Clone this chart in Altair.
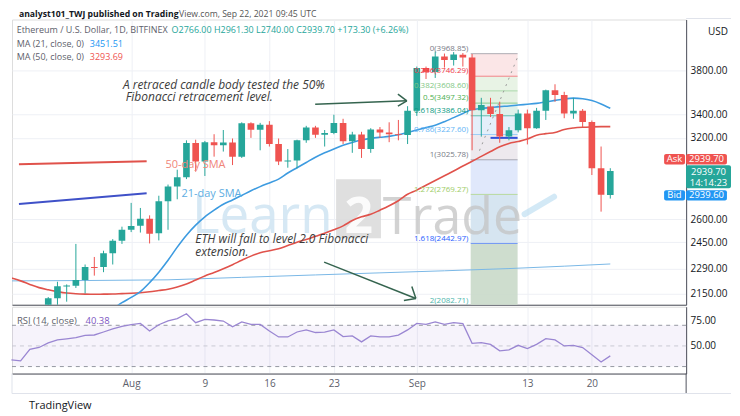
import altair as alt
import pandas as pd

T0 = pd.Timestamp("2021-07-19")

# ---------------- candles (ETH/USD, 1D, Bitfinex) ----------------
candle_dates = pd.date_range("2021-07-23", "2021-09-22", freq="D")
opens = [2025, 2123, 2188, 2192, 2225, 2300, 2300, 2383, 2460, 2530, 2556, 2603, 2507, 2722, 2825, 2893,
         3158, 3013, 3165, 3140, 3163, 3050, 3322, 3268, 3310, 3150, 3013, 3020, 3180, 3285, 3225, 3240,
         3325, 3172, 3228, 3110, 3270, 3245, 3230, 3224, 3430, 3825, 3787, 3940, 3905, 3958, 3930, 3435,
         3468, 3402, 3212, 3262, 3405, 3280, 3430, 3615, 3570, 3405, 3430, 3332, 2960, 2766]
highs = [2130, 2215, 2200, 2440, 2315, 2360, 2398, 2470, 2550, 2710, 2675, 2625, 2760, 2840, 2950, 3180,
         3185, 3175, 3230, 3265, 3195, 3330, 3330, 3325, 3340, 3195, 3110, 3185, 3300, 3300, 3265, 3395,
         3360, 3250, 3250, 3280, 3290, 3330, 3350, 3470, 3840, 3840, 3990, 3970, 3985, 3975, 3965, 3545,
         3545, 3510, 3290, 3440, 3440, 3455, 3620, 3670, 3600, 3545, 3445, 3345, 3130, 2961.3]
lows = [2000, 2082, 2105, 2180, 2150, 2250, 2270, 2315, 2440, 2515, 2512, 2443, 2462, 2530, 2735, 2880,
        2935, 2903, 3050, 3090, 2985, 3040, 3200, 3100, 3130, 2985, 2965, 2960, 3160, 3200, 3130, 3230,
        3150, 3080, 3040, 3080, 3200, 3165, 3180, 3150, 3385, 3720, 3730, 3830, 3850, 3840, 3100, 3210,
        3375, 3160, 3180, 3245, 3147, 3275, 3350, 3510, 3365, 3360, 3290, 2910, 2650, 2740]
closes = [2123, 2190, 2194, 2225, 2300, 2294, 2383, 2460, 2530, 2555, 2603, 2505, 2722, 2825, 2893, 3158,
          3013, 3165, 3140, 3163, 3050, 3322, 3268, 3310, 3150, 3013, 3020, 3180, 3285, 3225, 3240, 3325,
          3172, 3228, 3110, 3270, 3245, 3230, 3224, 3430, 3825, 3787, 3940, 3905, 3960, 3930, 3435, 3480,
          3402, 3212, 3262, 3405, 3280, 3430, 3615, 3570, 3405, 3430, 3332, 2960, 2766.4, 2939.7]

# ---------------- moving averages ----------------
ma21_days = list(range(11, 66))
ma21_vals = [2065, 2100, 2128, 2160, 2210, 2270, 2340, 2420, 2495, 2560, 2615, 2660, 2700, 2730, 2762,
             2795, 2825, 2852, 2880, 2925, 2965, 3005, 3045, 3080, 3110, 3140, 3163, 3182, 3196, 3205,
             3212, 3225, 3245, 3265, 3285, 3305, 3335, 3370, 3405, 3440, 3450, 3458, 3466, 3472, 3480,
             3487, 3495, 3508, 3522, 3535, 3542, 3537, 3520, 3490, 3451.51]
ma50_days = list(range(0, 66))
ma50_vals = [2236, 2220, 2200, 2182, 2170, 2160, 2152, 2148, 2146, 2145, 2146, 2147, 2149, 2151, 2154,
             2159, 2166, 2173, 2185, 2202, 2225, 2248, 2268, 2290, 2314, 2340, 2365, 2385, 2398, 2410,
             2430, 2450, 2468, 2488, 2508, 2530, 2555, 2590, 2615, 2632, 2660, 2690, 2725, 2770, 2800,
             2835, 2870, 2905, 2940, 2978, 3014, 3052, 3090, 3128, 3155, 3170, 3190, 3222, 3235, 3245,
             3270, 3282, 3288, 3291, 3293, 3293.69]
ma200_days = [0, 8, 17, 25, 33, 40, 47, 54, 60, 65]
ma200_vals = [2220, 2222, 2226, 2240, 2254, 2266, 2278, 2291, 2305, 2318]

# ---------------- RSI (14) ----------------
rsi_vals = [36.5, 35.5, 46.7, 48.5, 53, 55.8, 56.8, 58, 60.3, 60.6, 63.5, 66.5, 69, 70.7, 71.8, 64.5,
            70.5, 74.3, 76.4, 81.2, 72.5, 75.7, 75.1, 74.1, 68.6, 73.2, 70.9, 70.9, 64.5, 58.7, 58.7,
            63.5, 65.5, 63, 63.3, 65.5, 59, 59.7, 53.9, 59.7, 58.8, 58.7, 60.5, 65.5, 71.8, 70.9, 73.3,
            70.9, 72.5, 71.6, 52.5, 53.2, 51.5, 45.2, 46.1, 50.6, 47.4, 51.5, 57, 55.8, 50, 50.6, 48.4,
            41.5, 34.5, 40.38]

# ---------------- Fibonacci tool ----------------
fib_ratios = [0, 0.236, 0.382, 0.5, 0.618, 0.786, 1, 1.272, 1.618, 2]
fib_prices = [3968.85, 3746.29, 3608.60, 3497.32, 3386.04, 3227.60, 3025.78, 2769.27, 2442.97, 2082.71]
fib_label_colors = ["#787b86", "#f23645", "#81c784", "#4caf50", "#089981", "#64b5f6", "#787b86",
                    "#9ccc65", "#2962ff", "#4db6ac"]
fib_zone_colors = ["#fbe3e4", "#e6f2e2", "#e2f0e0", "#dcefe9", "#e1edf9", "#ebe7ec", "#dde5fb",
                   "#d2e2f0", "#c9d9c9"]

# ---------------- axes ----------------
price_ticks = [2150, 2290, 2450, 2600, 3200, 3400, 3800]
tick_dates = ["2021-08-01", "2021-08-09", "2021-08-16", "2021-08-23", "2021-09-01", "2021-09-13", "2021-09-20"]
tick_labels = ["Aug", "9", "16", "23", "Sep", "13", "20"]
rsi_ticks = [50, 75]

FONT = "Open Sans"
UP, DOWN = "#26a69a", "#ef5350"


def day(d):
    return (pd.Timestamp(d) - T0).days


tick_days = [day(d) for d in tick_dates]
label_expr = " : ".join(f"datum.value == {d} ? '{l}'" for d, l in zip(tick_days, tick_labels)) + " : ''"

W, H1, H2 = 676, 286, 67
T_MIN, T_MAX = 0.065, 73.23
xs = alt.Scale(domain=[T_MIN, T_MAX], nice=False, zero=False)
ps = alt.Scale(type="log", domain=[2088.6, 4330.8], nice=False)
rs = alt.Scale(domain=[23.24, 87.97], nice=False, zero=False)

AX_T_PRICE = alt.Axis(orient="bottom", values=tick_days, labels=False, ticks=False, grid=True,
                      gridColor="#eef0f5", domainColor="#50535e", title=None)
AX_PRICE = alt.Axis(orient="right", values=price_ticks, format=".2f", ticks=False, grid=True,
                    gridColor="#eef0f5", domainColor="#50535e", labelColor="#131722",
                    labelFont=FONT, labelFontSize=10, labelPadding=4, title=None)
AX_T_RSI = alt.Axis(orient="bottom", values=tick_days, labelExpr=label_expr, ticks=False, grid=True,
                    gridColor="#eef0f5", domainColor="#50535e", labelColor="#5d606b",
                    labelFont=FONT, labelFontSize=10, labelPadding=5, title=None)
AX_RSI = alt.Axis(orient="right", values=rsi_ticks, format=".2f", ticks=False, grid=False,
                  domainColor="#50535e", labelColor="#131722", labelFont=FONT,
                  labelFontSize=10, labelPadding=4, title=None)

PANEL = {"price": (ps, AX_T_PRICE, AX_PRICE), "rsi": (rs, AX_T_RSI, AX_RSI)}


def XE(field, panel):
    return alt.X(f"{field}:Q", scale=xs, axis=PANEL[panel][1], title=None)


def YE(field, panel):
    return alt.Y(f"{field}:Q", scale=PANEL[panel][0], axis=PANEL[panel][2], title=None)


# ---------------- data frames ----------------
cd = pd.DataFrame({"t": (candle_dates - T0).days, "o": opens, "h": highs, "l": lows, "c": closes})
cd["dir"] = ["up" if c >= o else "down" for o, c in zip(cd.o, cd.c)]
cd["t0"] = cd.t - 0.36
cd["t1"] = cd.t + 0.36
dir_color = alt.Color("dir:N", scale=alt.Scale(domain=["up", "down"], range=[UP, DOWN]), legend=None)


def texts(rows, panel, font=FONT, **kw):
    df = pd.DataFrame(rows, columns=["t", "y", "label", "color"])
    return alt.Chart(df).mark_text(font=font, **kw).encode(
        x=XE("t", panel), y=YE("y", panel), text="label:N",
        color=alt.Color("color:N", scale=None))


def segs(rows, panel, **kw):
    df = pd.DataFrame(rows, columns=["ta", "ya", "tb", "yb", "color"])
    return alt.Chart(df).mark_rule(**kw).encode(
        x=XE("ta", panel), x2="tb:Q", y=YE("ya", panel), y2="yb:Q",
        color=alt.Color("color:N", scale=None))


def rects(rows, panel, **kw):
    df = pd.DataFrame(rows, columns=["ta", "ya", "tb", "yb", "color"])
    return alt.Chart(df).mark_rect(**kw).encode(
        x=XE("ta", panel), x2="tb:Q", y=YE("ya", panel), y2="yb:Q",
        color=alt.Color("color:N", scale=None))


# ---------------- price panel ----------------
FIB_L, FIB_R = 49.85, 54.94
zones = rects([(FIB_L, fib_prices[k], FIB_R, fib_prices[k + 1], fib_zone_colors[k]) for k in range(9)], "price",
              opacity=0.9, clip=True)
fib_lines = segs([(FIB_L, p, FIB_R, p, c) for p, c in zip(fib_prices, fib_label_colors)], "price",
                 strokeWidth=1, opacity=0.6, clip=True)
fib_text = texts([(49.6, min(p * 1.002, 4300), f"{r:g}({p:.2f})", c)
                  for r, p, c in zip(fib_ratios, fib_prices, fib_label_colors)],
                 "price", align="right", baseline="bottom", fontSize=8)
fib_extra = segs([(52.0, 3200, FIB_R, 3200, "#3050d8")], "price", strokeWidth=2)
fib_dash = segs([(50.8, 3097, 54.9, 3925, "#9a9a9a")], "price", strokeWidth=1, strokeDash=[2, 5])

# watermark
wm_box = rects([(35.24, 2476, 40.11, 2878, "#d9d9d9")], "price", opacity=0.85)
wm_learn = texts([(19.6, 2508, "Learn", "#cfe5f3")], "price", align="left", baseline="alphabetic",
                 fontSize=53, opacity=0.85)
wm_two = texts([(37.7, 2508, "2", "#ffffff")], "price", align="center", baseline="alphabetic",
               fontSize=50, fontWeight="bold", opacity=0.9)
wm_trade = texts([(40.3, 2504, "Trade", "#c4c4c4")], "price", align="left", baseline="alphabetic",
                 fontSize=52, opacity=0.75)
wm_swoosh = segs([(55.7, 2633, 58.9, 2753, "#b5daf0")], "price", strokeWidth=6, opacity=0.6,
                 strokeCap="round")

ma200 = alt.Chart(pd.DataFrame({"t": ma200_days, "v": ma200_vals})).mark_line(
    color="#7ab8e6", strokeWidth=1, clip=True).encode(x=XE("t", "price"), y=YE("v", "price"))
ma50 = alt.Chart(pd.DataFrame({"t": ma50_days, "v": ma50_vals})).mark_line(
    color="#e0524b", strokeWidth=1.6, clip=True, interpolate="monotone").encode(
    x=XE("t", "price"), y=YE("v", "price"))
ma21 = alt.Chart(pd.DataFrame({"t": ma21_days, "v": ma21_vals})).mark_line(
    color="#3d9be0", strokeWidth=1.6, clip=True, interpolate="monotone").encode(
    x=XE("t", "price"), y=YE("v", "price"))

wicks = alt.Chart(cd).mark_rule(strokeWidth=1, clip=True).encode(
    x=XE("t", "price"), y=YE("h", "price"), y2="l:Q", color=dir_color)
bodies = alt.Chart(cd).mark_rect(clip=True).encode(
    x=XE("t0", "price"), x2="t1:Q", y=YE("o", "price"), y2="c:Q", color=dir_color)

# annotations
ann_lines = segs([(0.82, 2991, 14.68, 3014, "#e0524b"),
                  (0.82, 2703, 14.68, 2778, "#3f51c8")], "price", strokeWidth=2)
ann_sma = texts([(16.73, 2989, "50-day SMA", "#f0857a"),
                 (18.46, 2769, "21-day SMA", "#5dade2")], "price", align="left", baseline="middle", fontSize=11)
ann_note1 = texts([(12.1, 3663, "A retraced candle body tested the 50%", "#3c3c3c"),
                   (12.4, 3551, "Fibonacci retracement level.", "#3c3c3c")], "price",
                  align="left", baseline="middle", fontSize=12, fontStyle="italic")
ann_note2 = texts([(19.95, 2468, "ETH will fall to level 2.0 Fibonacci", "#3c3c3c"),
                   (19.95, 2389, "extension.", "#3c3c3c")], "price",
                  align="left", baseline="middle", fontSize=12, fontStyle="italic")
arrows = segs([(32.97, 3488, 42.92, 3518, "#35644f"),
               (41.95, 3579, 42.92, 3518, "#35644f"),
               (41.95, 3470, 42.92, 3518, "#35644f"),
               (33.94, 2329, 43.9, 2122, "#35644f"),
               (43.46, 2188, 43.9, 2122, "#35644f"),
               (42.6, 2111, 43.9, 2122, "#35644f")], "price", strokeWidth=1.5)

# header / legend
last = cd.iloc[-1]
prev_close = cd.iloc[-2].c
chg = last.c - prev_close
HEAD_P = 4442.8
header_bold = texts([(18.14, HEAD_P, "analyst101_TWJ published on Trading", "#131722")], "price",
                    align="right", baseline="top", fontSize=8.7, fontWeight="bold")
header_norm = texts([(18.2, HEAD_P, "View.com, Sep 22, 2021 09:45 UTC", "#555555")], "price",
                    align="left", baseline="top", fontSize=8.7)
ohlc_text = (f"O{last.o:.2f} H{last.h:.2f} L{last.l:.2f} C{last.c:.2f} "
             f"{chg:+.2f} ({chg / prev_close * 100:+.2f}%)")
legend_txt = texts([(0.57, 4218, "Ethereum / U.S. Dollar, 1D, BITFINEX", "#5d606b"),
                    (17.38, 4218, ohlc_text, UP),
                    (0.57, 4073, "MA (21, close, 0)", "#5d606b"),
                    (0.57, 3940, "MA (50, close, 0)", "#5d606b"),
                    (8.51, 4073, f"{ma21_vals[-1]:.2f}", "#2196f3"),
                    (8.51, 3940, f"{ma50_vals[-1]:.2f}", "#ef5350")], "price",
                   align="left", baseline="middle", fontSize=9)
usd_txt = texts([(75.6, 4200, "USD", "#131722")], "price", align="left", baseline="middle", fontSize=10)
top_frame = segs([(T_MAX, 4342, 78.1, 4342, "#e0e3eb")], "price", strokeWidth=1)

# price boxes on the scale
boxes = rects([(70.84, 2989, 73.11, 3071, DOWN), (73.22, 2989, 77.66, 3071, DOWN),
               (73.22, 2813, 78.1, 2984, UP),
               (70.84, 2727, 73.11, 2799, "#2196f3"), (73.22, 2727, 77.66, 2799, "#2196f3")], "price",
              cornerRadius=2)
box_text = texts([(71.97, 3030, "Ask", "#ffffff"), (75.44, 3030, f"{last.c:.2f}", "#ffffff"),
                  (75.66, 2933, f"{last.c:.2f}", "#ffffff"), (75.66, 2850, "14:14:23", "#ffffff"),
                  (71.97, 2762, "Bid", "#ffffff"), (75.44, 2762, f"{last.c - 0.1:.2f}", "#ffffff")], "price",
                 align="center", baseline="middle", fontSize=9.5)

price = alt.layer(zones, fib_lines, fib_extra, fib_dash, wm_box, wm_learn, wm_two, wm_trade, wm_swoosh,
                  ma200, ma50, ma21, wicks, bodies, fib_text, ann_lines, ann_sma, ann_note1, ann_note2,
                  arrows, header_bold, header_norm, legend_txt, usd_txt, top_frame, boxes, box_text
                  ).properties(width=W, height=H1)

# ---------------- RSI panel ----------------
rsi_df = pd.DataFrame({"t": list(range(len(rsi_vals))), "r": rsi_vals})
band = rects([(T_MIN, 30, T_MAX, 70, "#7e57c2")], "rsi", opacity=0.07)
lvl_rules = alt.Chart(pd.DataFrame({"r": [70, 30]})).mark_rule(
    color="#9598a1", strokeDash=[4, 4], strokeWidth=1).encode(y=YE("r", "rsi"))
mid_rule = alt.Chart(pd.DataFrame({"r": [50]})).mark_rule(
    color="#c9c9d3", strokeDash=[4, 4], strokeWidth=1).encode(y=YE("r", "rsi"))
rsi_line = alt.Chart(rsi_df).mark_line(color="#9a86d2", strokeWidth=1.3).encode(
    x=XE("t", "rsi"), y=YE("r", "rsi"))
rsi_text = texts([(0.6, 74.4, "RSI (14, close)", "#5d606b"),
                  (8.04, 74.4, f"{rsi_vals[-1]:.2f}", "#7e57c2")], "rsi",
                 align="left", baseline="middle", fontSize=9.5)
frame = segs([(T_MAX, 23.24, T_MAX, 3.9, "#50535e"),
              (T_MIN, 3.9, 78.1, 3.9, "#e0e3eb"),
              (T_MIN, 23.24, T_MIN, 3.9, "#e0e3eb")], "rsi", strokeWidth=1)
footer = texts([(1.9, -8.65, "TradingView", "#131722")], "rsi", align="left", baseline="middle", fontSize=11)

rsi = alt.layer(band, mid_rule, lvl_rules, rsi_line, rsi_text, frame, footer).properties(width=W, height=H2)

chart = alt.vconcat(price, rsi, spacing=0).properties(
    padding={"left": 0, "top": 0, "right": 0, "bottom": 0}
).configure_view(stroke="#e0e3eb").configure(font=FONT)

chart.save("out.html", embed_options={"renderer": "svg", "actions": False})
